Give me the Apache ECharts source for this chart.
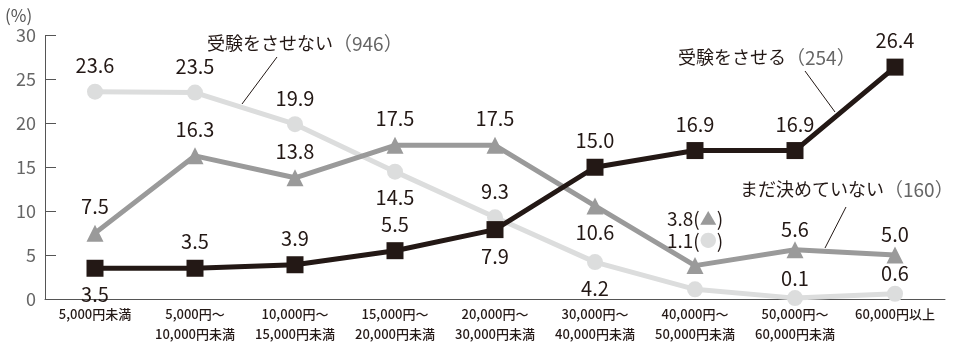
<!DOCTYPE html>
<html>
<head>
<meta charset="utf-8">
<style>
  html, body { margin: 0; padding: 0; background: #fff; }
  #chart { width: 956px; height: 350px; }
</style>
<script src="https://cdn.jsdelivr.net/npm/echarts@6/dist/echarts.min.js"></script>
</head>
<body>
<div id="chart"></div>
<script>
const categories = [
  "5,000円未満", "5,000円～\n10,000円未満", "10,000円～\n15,000円未満",
  "15,000円～\n20,000円未満", "20,000円～\n30,000円未満", "30,000円～\n40,000円未満",
  "40,000円～\n50,000円未満", "50,000円～\n60,000円未満", "60,000円以上"
];
const yTicks = [0, 5, 10, 15, 20, 25, 30];

const sitai = [3.5, 3.5, 3.9, 5.5, 7.9, 15.0, 16.9, 16.9, 26.4];      // 受験をさせる (254)
const sinai = [23.6, 23.5, 19.9, 14.5, 9.3, 4.2, 1.1, 0.1, 0.6];      // 受験をさせない (946)
const mitei = [7.5, 16.3, 13.8, 17.5, 17.5, 10.6, 3.8, 5.6, 5.0];     // まだ決めていない (160)

// label placement per point (t = above, n = close above, b = below, s = stacked note)
const sitaiPos = ["b", "t", "t", "t", "b", "t", "t", "t", "t"];
const sinaiPos = ["t", "t", "t", "b", "t", "b", "s", "n", "n"];
const miteiPos = ["t", "t", "t", "t", "t", "b", "s", "n", "n"];

const INK = "#231815";
const FONT = "'Noto Sans CJK JP', 'Noto Sans', sans-serif";

function points(values, pos, color, mark) {
  return values.map((v, i) => {
    const p = pos[i];
    const label = { show: true };
    if (p === "b") {
      label.position = "bottom";
    } else if (p === "n") {
      label.distance = 2;
    } else if (p === "s") {
      label.position = "top";
      label.distance = mark === "▲" ? 29 : 31;
      label.formatter = "{v|" + v.toFixed(1) + "(}{m|" + mark + "}{v|)}";
      label.rich = {
        v: { fontSize: 19, color: INK, fontFamily: FONT },
        m: { fontSize: 17, color: color, fontFamily: FONT }
      };
    }
    return { value: v, label: label };
  });
}

function lineSeries(name, values, pos, color, symbol, size, mark) {
  return {
    name: name,
    type: "line",
    data: points(values, pos, color, mark),
    symbol: symbol,
    symbolSize: size,
    lineStyle: { color: color, width: 5 },
    itemStyle: { color: color },
    label: {
      show: true,
      position: "top",
      distance: 8,
      fontSize: 20,
      color: INK,
      fontFamily: FONT,
      formatter: p => p.value.toFixed(1)
    },
    emphasis: { disabled: true },
    animation: false
  };
}

const chart = echarts.init(document.getElementById("chart"));
chart.setOption({
  backgroundColor: "#fff",
  grid: { left: 45, right: 11, top: 35.5, bottom: 51 },
  xAxis: {
    type: "category",
    data: categories,
    boundaryGap: true,
    axisLine: { lineStyle: { color: "#555", width: 1 } },
    axisTick: { show: false },
    axisLabel: {
      interval: 0,
      color: INK,
      fontSize: 13,
      fontWeight: 500,
      lineHeight: 20,
      margin: 5,
      fontFamily: FONT
    }
  },
  yAxis: {
    type: "value",
    min: yTicks[0],
    max: yTicks[yTicks.length - 1],
    interval: 5,
    splitLine: { show: false },
    axisLine: { show: true, lineStyle: { color: "#555", width: 1 } },
    axisTick: { show: true, inside: true, length: 11, lineStyle: { color: "#555" } },
    axisLabel: { color: "#666", fontSize: 18, margin: 9, fontFamily: FONT }
  },
  series: [
    lineSeries("受験をさせない", sinai, sinaiPos, "#dcdddd", "circle", 16, "●"),
    lineSeries("まだ決めていない", mitei, miteiPos, "#9a9a9a", "triangle", 17, "▲"),
    lineSeries("受験をさせる", sitai, sitaiPos, INK, "rect", 17, "■")
  ],
  graphic: [
    { type: "text", left: 5, top: 7, style: { text: "(%)", fontSize: 17, fill: "#555", fontFamily: FONT } },
    {
      type: "text", left: 207, top: 34,
      style: {
        text: "{a|受験をさせない}{b|（946）}",
        rich: {
          a: { fontSize: 18, fill: INK, fontFamily: FONT },
          b: { fontSize: 19, fill: "#666", fontFamily: FONT }
        }
      }
    },
    { type: "line", shape: { x1: 277, y1: 57, x2: 242, y2: 104 }, style: { stroke: INK, lineWidth: 1 } },
    {
      type: "text", left: 678, top: 48,
      style: {
        text: "{a|受験をさせる}{b|（254）}",
        rich: {
          a: { fontSize: 18, fill: INK, fontFamily: FONT },
          b: { fontSize: 19, fill: "#666", fontFamily: FONT }
        }
      }
    },
    { type: "line", shape: { x1: 805, y1: 71, x2: 835, y2: 112 }, style: { stroke: INK, lineWidth: 1 } },
    {
      type: "text", left: 740, top: 180,
      style: {
        text: "{a|まだ決めていない}{b|（160）}",
        rich: {
          a: { fontSize: 18, fill: INK, fontFamily: FONT },
          b: { fontSize: 19, fill: "#666", fontFamily: FONT }
        }
      }
    },
    { type: "line", shape: { x1: 846, y1: 207, x2: 825, y2: 248 }, style: { stroke: INK, lineWidth: 1 } }
  ]
});
</script>
</body>
</html>
